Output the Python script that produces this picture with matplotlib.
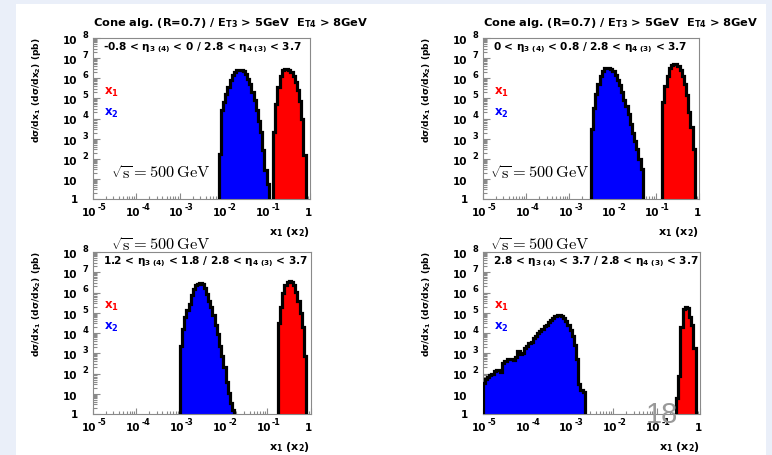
import numpy as np
import matplotlib
matplotlib.use("Agg")
import matplotlib.pyplot as plt
from matplotlib.patches import Rectangle
from matplotlib.transforms import offset_copy
from matplotlib.ticker import LogLocator, NullFormatter, FixedLocator

plt.rcParams['font.family'] = ['DejaVu Sans']
plt.rcParams['font.weight'] = 'bold'
plt.rcParams['mathtext.fontset'] = 'custom'
plt.rcParams['mathtext.rm'] = 'DejaVu Sans:bold'
plt.rcParams['mathtext.bf'] = 'DejaVu Sans:bold'
plt.rcParams['mathtext.it'] = 'DejaVu Sans:bold'
plt.rcParams['mathtext.default'] = 'rm'

# histogram binning in log10(x): -5 .. 0, bin width 0.05
bin_w = 0.05

# log10(dsigma/dx) per bin, with index of first filled bin
tl_blue_start = 58
tl_blue = [2.25, 4.4, 4.82, 5.23, 5.56, 5.9, 6.14, 6.31, 6.39, 6.39, 6.39, 6.34,
           6.22, 5.98, 5.73, 5.31, 4.9, 4.4, 3.9, 3.33, 2.42, 1.42, 0.76]
tl_red_start = 83
tl_red = [3.35, 4.7, 5.55, 6.1, 6.4, 6.48, 6.48, 6.42, 6.3, 6.1, 5.8, 5.4, 4.85, 4.0, 2.2]

tr_blue_start = 50
tr_blue = [3.5, 4.5, 5.2, 5.7, 6.1, 6.38, 6.5, 6.52, 6.52, 6.47, 6.38, 6.15,
           5.9, 5.65, 5.3, 4.9, 4.6, 4.2, 3.75, 3.3, 2.9, 2.5, 2.0, 1.5]
tr_red_start = 83
tr_red = [4.8, 5.6, 6.1, 6.5, 6.67, 6.72, 6.72, 6.62, 6.4, 6.1, 5.7, 5.15, 4.3, 3.6, 2.5]

bl_blue_start = 40
bl_blue = [3.35, 4.2, 4.8, 5.12, 5.45, 5.9, 6.19, 6.35, 6.44, 6.45, 6.4, 6.2, 5.94,
           5.6, 5.28, 4.87, 4.4, 3.95, 3.35, 2.85, 2.3, 1.6, 1.05, 0.55, 0.2]
bl_red_start = 85
bl_red = [4.5, 5.3, 6.0, 6.35, 6.52, 6.55, 6.5, 6.35, 6.02, 5.6, 5.0, 4.3, 2.85]

br_blue_start = 0
br_blue = [1.55, 1.75, 1.85, 1.95, 2.0, 2.1, 2.15, 2.15, 2.05, 2.5, 2.6, 2.7,
           2.72, 2.7, 2.65, 2.8, 3.1, 2.95, 3.0, 3.25, 3.35, 3.5, 3.55, 3.75,
           3.85, 4.0, 4.1, 4.2, 4.35, 4.4, 4.55, 4.65, 4.75, 4.85, 4.88, 4.88,
           4.82, 4.72, 4.6, 4.4, 4.15, 3.85, 3.4, 2.7, 1.5, 1.2, 1.1]
br_red_start = 89
br_red = [0.8, 1.9, 4.3, 5.2, 5.3, 5.25, 4.8, 4.4, 3.25]

eta_labels = [
    '-0.8 < η$_{3\\ (4)}$ < 0 / 2.8 < η$_{4\\ (3)}$ < 3.7',
    '0 < η$_{3\\ (4)}$ < 0.8 / 2.8 < η$_{4\\ (3)}$ < 3.7',
    '1.2 < η$_{3\\ (4)}$ < 1.8 / 2.8 < η$_{4\\ (3)}$ < 3.7',
    '2.8 < η$_{3\\ (4)}$ < 3.7 / 2.8 < η$_{4\\ (3)}$ < 3.7',
]
title = 'Cone alg. (R=0.7) / E$_{T3}$ > 5GeV  E$_{T4}$ > 8GeV'
ylabel = 'dσ/dx$_1$ (dσ/dx$_2$) (pb)'
xlabel = 'x$_1$ (x$_2$)'
sqrt_s = r'$\sqrt{\rm s} = 500\,{\rm GeV}$'

hists = [
    (tl_blue_start, tl_blue, tl_red_start, tl_red),
    (tr_blue_start, tr_blue, tr_red_start, tr_red),
    (bl_blue_start, bl_blue, bl_red_start, bl_red),
    (br_blue_start, br_blue, br_red_start, br_red),
]

W, H = 772, 456
fig = plt.figure(figsize=(W / 100, H / 100), dpi=100)
fig.patch.set_facecolor('#eaeff9')
fig.add_artist(Rectangle((16 / W, 0), 750 / W, 451 / H, transform=fig.transFigure,
                         facecolor='white', edgecolor='none', zorder=0))

# axes boxes in pixels: left, top, right, bottom
boxes = [(92.7, 39, 310, 200), (482.7, 39, 699, 200),
         (92.7, 253, 310.5, 415), (482.7, 253, 700, 415)]
sqrt_pos = [(18, 27, 0), (7, 27, 0), (18, 8, 1), (7, 8, 1)]


def off(tr, dx, dy):
    return offset_copy(tr, fig=fig, x=dx, y=dy, units='dots')


def draw_hist(ax, start, logvals, color):
    edges = 10 ** (-5 + bin_w * np.arange(start, start + len(logvals) + 1))
    heights = 10 ** np.array(logvals)
    ax.stairs(heights, edges, baseline=1e-2, fill=True, facecolor=color,
              edgecolor='none', lw=0, zorder=2)
    ax.stairs(heights, edges, baseline=1e-2, color='black', lw=2.3, zorder=3)


for i, (l, t, r, b) in enumerate(boxes):
    ax = fig.add_axes([l / W, (H - b) / H, (r - l) / W, (b - t) / H])
    ax.set_facecolor('none')
    ax.set_xscale('log')
    ax.set_yscale('log')
    bs, bv, rs, rv = hists[i]
    draw_hist(ax, bs, bv, '#0000ff')
    draw_hist(ax, rs, rv, '#ff0000')
    ax.set_xlim(1e-5, 1)
    ax.set_ylim(1, 1e8)

    ax.xaxis.set_major_locator(FixedLocator(10.0 ** np.arange(-5, 1)))
    ax.xaxis.set_minor_locator(LogLocator(base=10, subs=np.arange(2, 10), numticks=50))
    ax.yaxis.set_major_locator(FixedLocator(10.0 ** np.arange(0, 9)))
    ax.yaxis.set_minor_locator(LogLocator(base=10, subs=np.arange(2, 10), numticks=50))
    for axis in (ax.xaxis, ax.yaxis):
        axis.set_major_formatter(NullFormatter())
        axis.set_minor_formatter(NullFormatter())
    ax.tick_params(which='both', direction='in', color='#8a8a8a', width=0.8,
                   top=False, right=False)
    ax.tick_params(axis='y', which='major', length=5)
    ax.tick_params(axis='y', which='minor', length=3)
    ax.tick_params(axis='x', which='major', length=4)
    ax.tick_params(axis='x', which='minor', length=2.2)
    for s in ax.spines.values():
        s.set_color('#8a8a8a')
        s.set_linewidth(0.8)

    # ROOT-style tick labels
    ytr = ax.get_yaxis_transform()
    for n in range(9):
        if n == 0:
            ax.text(0, 1, '1', transform=off(ytr, -15, 0), ha='right', va='center', fontsize=7.5)
        else:
            ax.text(0, 10.0 ** n, '10', transform=off(ytr, -15, -2), ha='right', va='center',
                    fontsize=7.5)
            if n > 1:
                ax.text(0, 10.0 ** n, str(n), transform=off(ytr, -10, 3.5), ha='left',
                        va='center', fontsize=6)
    xtr = ax.get_xaxis_transform()
    for n in range(-5, 1):
        if n == 0:
            ax.text(1, 0, '1', transform=off(xtr, -2, -13), ha='center', va='center', fontsize=7.5)
        else:
            ax.text(10.0 ** n, 0, '10', transform=off(xtr, 4, -13), ha='right', va='center',
                    fontsize=7.5)
            ax.text(10.0 ** n, 0, str(n), transform=off(xtr, 5, -7.5), ha='left', va='center',
                    fontsize=5.8)

    ax.text(0, 1, ylabel, transform=off(ax.transAxes, -56, 2), rotation=90,
            ha='center', va='top', fontsize=6.6)
    ax.text(1, 0, xlabel, transform=off(ax.transAxes, 0, -32), ha='right', va='center',
            fontsize=8)
    if i < 2:
        ax.text(0, 1, title, transform=off(ax.transAxes, 0, 16), ha='left', va='center',
                fontsize=8.2)
    ax.text(0, 1, eta_labels[i], transform=off(ax.transAxes, 10, -9), ha='left',
            va='center', fontsize=7.6)
    ax.text(0, 1, 'x$_1$', transform=off(ax.transAxes, 11, -53), ha='left', va='center',
            fontsize=8.5, color='#ff0000')
    ax.text(0, 1, 'x$_2$', transform=off(ax.transAxes, 11, -74), ha='left', va='center',
            fontsize=8.5, color='#0000ff')
    sx, sy, above = sqrt_pos[i]
    if above:
        ax.text(0, 1, sqrt_s, transform=off(ax.transAxes, sx, sy), ha='left', va='center',
                fontsize=11.8, math_fontfamily='cm')
    else:
        ax.text(0, 0, sqrt_s, transform=off(ax.transAxes, sx, sy), ha='left', va='center',
                fontsize=11.8, math_fontfamily='cm', zorder=5)

fig.text(662 / W, (H - 415) / H, '18', ha='center', va='center', fontsize=21,
         fontweight='normal', family='Liberation Sans', color='#999999', zorder=10)

fig.savefig('out.png', dpi=100, facecolor=fig.get_facecolor())
